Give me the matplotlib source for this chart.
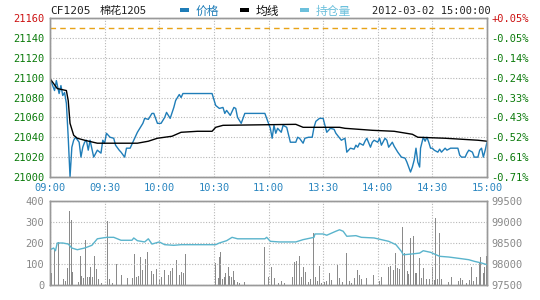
import matplotlib
matplotlib.use("Agg")
import matplotlib.pyplot as plt
from matplotlib.patches import Rectangle

# minutes since 09:00 on a compressed session axis (11:30 joins 13:30)
time_labels = ['09:00', '09:30', '10:00', '10:30', '11:00', '13:30', '14:00', '14:30', '15:00']

price_min = [0, 2.5, 3.5, 5, 6, 7, 8, 9, 10, 11, 12, 13, 14, 16, 17, 18, 19, 20, 21, 22,
             24, 26, 28, 29, 30, 31, 33, 35, 36, 38, 39, 41, 42, 44, 46, 48, 51, 52, 54, 56,
             57, 59, 61, 63, 64, 66, 68, 69, 71, 72, 73, 89, 91, 93, 95, 96, 97, 99, 101, 102,
             103, 105, 107, 118, 120, 121, 122, 123, 124, 125, 127, 128, 130, 132, 135, 136, 137, 139, 140, 142,
             144, 145, 146, 148, 150, 151, 152, 154, 156, 157, 160, 162, 163, 165, 167, 168, 169, 170, 172, 173,
             174, 176, 177, 178, 180, 181, 182, 184, 185, 186, 188, 189, 191, 193, 195, 196, 198, 199, 200, 201,
             202, 203, 203.5, 205, 206, 207, 208, 209, 210, 211, 213, 214, 215, 217, 218, 220, 222, 224, 225, 226,
             228, 229, 230, 232, 233, 235, 236, 237, 238, 239, 240]
price_val = [21099, 21087, 21097, 21084, 21092, 21082, 21085, 21074, 21040, 21000, 21030, 21037, 21040, 21035, 21020, 21030, 21035, 21037, 21027, 21037,
             21020, 21027, 21024, 21037, 21034, 21044, 21040, 21039, 21032, 21027, 21025, 21020, 21029, 21029, 21037, 21045, 21054, 21059, 21058, 21064,
             21064, 21054, 21054, 21060, 21065, 21059, 21070, 21077, 21083, 21080, 21084, 21084, 21072, 21069, 21070, 21064, 21067, 21062, 21070, 21069,
             21060, 21054, 21064, 21064, 21054, 21049, 21039, 21052, 21044, 21049, 21045, 21052, 21050, 21035, 21035, 21040, 21039, 21034, 21039, 21040,
             21040, 21050, 21056, 21059, 21059, 21052, 21045, 21049, 21048, 21044, 21037, 21039, 21025, 21029, 21028, 21032, 21030, 21034, 21032, 21036,
             21039, 21030, 21035, 21037, 21035, 21039, 21032, 21039, 21037, 21030, 21035, 21031, 21025, 21020, 21019, 21015, 21005, 21010, 21017, 21029,
             21015, 21010, 21029, 21040, 21036, 21040, 21035, 21029, 21029, 21027, 21025, 21028, 21025, 21029, 21027, 21029, 21029, 21029, 21022, 21020,
             21020, 21024, 21027, 21025, 21020, 21020, 21027, 21029, 21020, 21027, 21035]

avg_min = [0, 4, 9, 10, 11, 13, 15, 19, 26, 48, 54, 59, 67, 72, 81, 89, 91, 95, 135, 139,
           159, 162, 177, 189, 199, 202, 217, 235, 240]
avg_val = [21099, 21089, 21087, 21077, 21054, 21042, 21039, 21037, 21034, 21034, 21036, 21039, 21041, 21045, 21046, 21046, 21050, 21052, 21053, 21050,
           21050, 21049, 21047, 21046, 21043, 21040, 21039, 21037, 21036]

oi_min = [0, 2, 3, 4, 7, 10, 12, 15, 19, 23, 26, 31, 35, 39, 45, 46, 48, 52, 54, 56,
          60, 63, 68, 72, 91, 93, 97, 100, 103, 118, 119, 121, 126, 135, 139, 145, 145.5, 150, 152, 157,
          159, 161, 163, 168, 171, 178, 182, 186, 190, 193, 194, 199, 203, 205, 209, 211, 214, 219, 226, 230,
          233, 237, 240]
oi_val = [98340, 98380, 98316, 98500, 98500, 98476, 98380, 98340, 98380, 98445, 98600, 98635, 98635, 98565, 98565, 98620, 98555, 98525, 98600, 98475,
          98525, 98460, 98445, 98460, 98460, 98500, 98555, 98635, 98600, 98600, 98635, 98540, 98525, 98525, 98580, 98635, 98715, 98715, 98685, 98780,
          98815, 98780, 98660, 98675, 98635, 98620, 98580, 98540, 98460, 98300, 98220, 98240, 98260, 98316, 98278, 98240, 98183, 98166, 98126, 98102,
          98064, 98024, 97983]

vol_min = [0.9, 2.4, 3.3, 4.6, 6.0, 7.3, 8.4, 9.7, 10.9, 11.6, 12.4, 13.2, 14.3, 15.6, 16.9, 17.5, 18.3, 19.6, 20.5, 21.6,
           22.3, 23.2, 24.3, 25.6, 26.7, 28.4, 29.7, 31.5, 32.9, 34.4, 36.6, 37.9, 39.3, 40.6, 42.4, 43.9, 45.4, 46.3, 47.6, 48.5,
           49.8, 50.9, 52.4, 53.5, 54.4, 55.8, 56.7, 58.6, 60.0, 61.3, 63.1, 65.0, 66.2, 67.3, 68.1, 69.5, 71.0, 72.3, 73.2, 74.3,
           91.1, 92.4, 92.9, 93.8, 94.8, 95.7, 96.6, 97.9, 98.8, 99.7, 100.6, 101.5, 102.8, 103.9, 107.0, 117.7, 119.9, 121.7, 123.5, 125.4,
           127.2, 129.0, 131.8, 133.2, 134.5, 135.4, 136.9, 138.2, 139.1, 140.5, 141.8, 143.1, 144.6, 146.0, 146.9, 147.8, 149.1, 150.6, 151.9, 153.4,
           154.6, 156.5, 157.9, 159.2, 160.7, 162.9, 164.3, 165.6, 167.4, 168.7, 169.8, 171.1, 172.4, 173.8, 175.7, 177.5, 179.0, 180.8, 182.1, 184.5,
           185.8, 187.0, 188.5, 189.6, 190.7, 192.1, 193.6, 194.9, 196.2, 196.9, 198.0, 199.5, 200.6, 201.3, 202.8, 204.0, 205.3, 206.8, 208.3, 209.9,
           211.0, 211.7, 212.8, 213.7, 215.0, 216.9, 218.7, 220.5, 222.4, 224.2, 225.5, 226.6, 228.8, 230.2, 231.5, 232.8, 234.2, 235.7, 236.6, 237.9,
           238.8, 239.7]
vol_val = [56, 167, 100, 203, 40, 27, 21, 79, 354, 309, 63, 246, 56, 16, 138, 43, 32, 214, 37, 40,
           84, 40, 138, 76, 27, 11, 21, 305, 27, 8, 100, 16, 48, 27, 32, 8, 32, 146, 37, 43,
           132, 71, 122, 159, 21, 67, 52, 75, 27, 37, 71, 48, 67, 79, 87, 119, 48, 63, 56, 146,
           106, 32, 135, 159, 27, 37, 56, 87, 43, 40, 68, 24, 16, 8, 16, 183, 40, 84, 32, 11,
           21, 8, 16, 40, 111, 116, 138, 37, 87, 63, 16, 27, 249, 37, 21, 90, 8, 16, 21, 56,
           24, 59, 95, 32, 16, 154, 21, 11, 32, 71, 48, 27, 43, 32, 16, 48, 24, 21, 37, 43,
           84, 90, 71, 154, 79, 75, 278, 154, 68, 52, 222, 233, 56, 59, 130, 32, 79, 27, 27, 87,
           24, 317, 27, 246, 27, 11, 16, 37, 16, 21, 32, 24, 11, 24, 87, 21, 37, 106, 132, 56,
           84, 138]

prev_settle = 21150
price_ticks = [21000, 21020, 21040, 21060, 21080, 21100, 21120, 21140, 21160]
vol_ticks = [0, 100, 200, 300, 400]
oi_ticks = [97500, 98000, 98500, 99000, 99500]

W, H = 540, 300
mono = 'DejaVu Sans Mono'
cjk = ['Noto Sans CJK SC', 'DejaVu Sans']
grid_kw = dict(color='#b8b8b8', linestyle=(0, (1, 1.5)), linewidth=0.8)
green, red, blue = '#0a7a0a', '#cc1111', '#2a86c0'

fig = plt.figure(figsize=(W / 100, H / 100), dpi=100)
fig.patch.set_facecolor('white')


def box(x0, y0, x1, y1):
    return [x0 / W, 1 - y1 / H, (x1 - x0) / W, (y1 - y0) / H]


def frame(ax):
    for s in ax.spines.values():
        s.set_color('#999999')
        s.set_linewidth(1)
    ax.tick_params(length=0)


# price panel
ax1 = fig.add_axes(box(50, 18, 487, 177))
ax1.plot(price_min, price_val, color='#1f7db8', lw=1)
ax1.plot(avg_min, avg_val, color='black', lw=1)
ax1.axhline(prev_settle, color='#e8a317', lw=1, ls=(0, (4, 3)))
ax1.set_xlim(0, 240)
ax1.set_ylim(21000, 21160)
ax1.set_xticks(range(0, 241, 30))
ax1.set_xticklabels(time_labels, family=mono, fontsize=7.5, color=blue)
ax1.set_yticks(price_ticks)
ax1.set_yticklabels([str(v) for v in price_ticks], family=mono, fontsize=7.5)
for lbl, v in zip(ax1.get_yticklabels(), price_ticks):
    lbl.set_color(red if v > prev_settle else green)
ax1.tick_params(axis='x', pad=4)
ax1.tick_params(axis='y', pad=4)
ax1.grid(True, **grid_kw)
frame(ax1)

ax1r = ax1.twinx()
ax1r.set_ylim(21000, 21160)
ax1r.set_yticks(price_ticks)
ax1r.set_yticklabels([f"{(v / prev_settle - 1) * 100:+.2f}%" for v in price_ticks],
                     family=mono, fontsize=7.5)
for lbl, v in zip(ax1r.get_yticklabels(), price_ticks):
    lbl.set_color(red if v > prev_settle else green)
ax1r.tick_params(axis='y', pad=3)
frame(ax1r)

# volume / open interest panel
ax2 = fig.add_axes(box(50, 201, 487, 285))
ax2.bar(vol_min, vol_val, width=0.45, color='#8a8a8a', linewidth=0)
ax2.set_xlim(0, 240)
ax2.set_ylim(0, 400)
ax2.set_xticks(range(0, 241, 30))
ax2.set_xticklabels([])
ax2.set_yticks(vol_ticks)
ax2.set_yticklabels([str(v) for v in vol_ticks], family=mono, fontsize=7.5, color='#888888')
ax2.tick_params(axis='y', pad=4)
ax2.grid(True, **grid_kw)
frame(ax2)

ax2r = ax2.twinx()
ax2r.plot(oi_min, oi_val, color='#5ab4cc', lw=1)
ax2r.set_ylim(97500, 99500)
ax2r.set_yticks(oi_ticks)
ax2r.set_yticklabels([str(v) for v in oi_ticks], family=mono, fontsize=7.5, color='#888888')
ax2r.tick_params(axis='y', pad=3)
frame(ax2r)

# header
ty = 1 - 11 / H
fig.text(50 / W, ty, 'CF1205', family=mono, fontsize=8, va='center', color='#222222')
fig.text(100 / W, ty, '棉花1205', family=cjk, fontsize=8, va='center', color='#222222')
for x0, col, label in [(180, '#1f7db8', '价格'), (240, 'black', '均线'), (300, '#6cc0dc', '持仓量')]:
    fig.add_artist(Rectangle((x0 / W, 1 - 11.5 / H), 9 / W, 3.5 / H,
                             transform=fig.transFigure, color=col, lw=0))
    fig.text((x0 + 16) / W, ty, label, family=cjk, fontsize=8.5, va='center',
             color=col if col != 'black' else '#111111')
fig.text(372 / W, ty, '2012-03-02 15:00:00', family=mono, fontsize=7.5, va='center', color='#222222')

fig.savefig('out.png', dpi=100, facecolor='white')
